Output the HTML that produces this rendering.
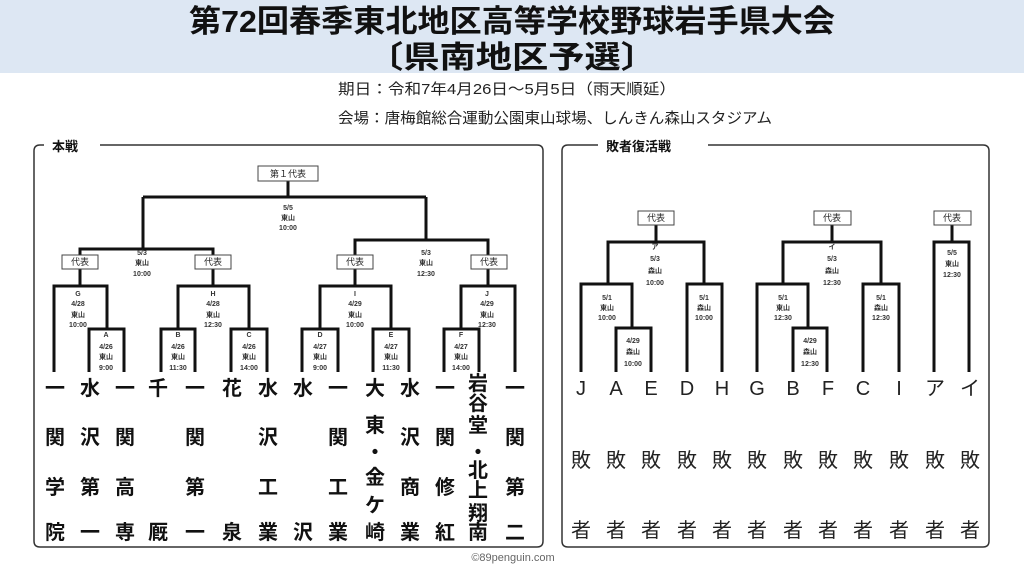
<!DOCTYPE html>
<html><head><meta charset="utf-8"><style>
html,body{margin:0;padding:0;background:#fff;}
svg{display:block;}
.t{font-family:"Liberation Sans","Noto Sans CJK JP",sans-serif;}
.s{font-size:7px;font-weight:bold;fill:#333;text-anchor:middle;}
.tm{font-size:20px;font-weight:bold;fill:#111;text-anchor:middle;}
.tr{font-size:20px;fill:#222;text-anchor:middle;}
.bx{font-size:9px;fill:#222;text-anchor:middle;}
</style></head><body>
<svg width="1024" height="576" viewBox="0 0 1024 576" xmlns="http://www.w3.org/2000/svg" class="t">
<rect x="0" y="0" width="1024" height="73" fill="#dde7f3"/>
<text x="512" y="32" font-size="31" font-weight="bold" text-anchor="middle" fill="#111" textLength="646" lengthAdjust="spacingAndGlyphs">第72回春季東北地区高等学校野球岩手県大会</text>
<text x="512" y="68" font-size="31" font-weight="bold" text-anchor="middle" fill="#111" textLength="290" lengthAdjust="spacingAndGlyphs">〔県南地区予選〕</text>
<text x="338" y="94" font-size="15" fill="#222" textLength="338" lengthAdjust="spacingAndGlyphs">期日：令和7年4月26日～5月5日（雨天順延）</text>
<text x="338" y="123" font-size="15" fill="#222" textLength="434" lengthAdjust="spacingAndGlyphs">会場：唐梅館総合運動公園東山球場、しんきん森山スタジアム</text>

<!-- panels -->
<path d="M44 145 H40 Q34 145 34 151 V541 Q34 547 40 547 H537 Q543 547 543 541 V151 Q543 145 537 145 H100" fill="none" stroke="#333" stroke-width="1.5"/>
<text x="52" y="151" font-size="13" font-weight="bold" fill="#111">本戦</text>
<path d="M598 145 H568 Q562 145 562 151 V541 Q562 547 568 547 H983 Q989 547 989 541 V151 Q989 145 983 145 H708" fill="none" stroke="#333" stroke-width="1.5"/>
<text x="606" y="151" font-size="13" font-weight="bold" fill="#111">敗者復活戦</text>

<g fill="none" stroke="#111" stroke-width="3">
<path d="M89 372V329H124V372"/>
<path d="M161 372V329H195V372"/>
<path d="M231 372V329H267V372"/>
<path d="M302 372V329H338V372"/>
<path d="M373 372V329H409V372"/>
<path d="M444 372V329H479V372"/>
<path d="M54 372V286H107V329M80 286V269"/>
<path d="M178 329V286H249V329M213 286V269"/>
<path d="M320 329V286H391V329M355 286V269"/>
<path d="M461 329V286H515V372M488 286V269"/>
<path d="M80 255V249H213V255M143 249V197"/>
<path d="M355 255V240H488V255M426 240V197"/>
<path d="M143 197H426M288 197V181"/>
<!-- right -->
<path d="M616 372V328H651V372"/>
<path d="M581 372V284H632V328"/>
<path d="M687 372V284H722V372"/>
<path d="M608 284V242H704V284M656 242V225"/>
<path d="M793 372V328H827V372"/>
<path d="M757 372V284H808V328"/>
<path d="M863 372V284H899V372"/>
<path d="M783 284V242H881V284M832 242V225"/>
<path d="M934 372V242H969V372M952 242V225"/>
</g>
<g fill="#fff" stroke="#444" stroke-width="1">
<rect x="258" y="166" width="60" height="15"/>
<rect x="62" y="255" width="36" height="14"/>
<rect x="195" y="255" width="36" height="14"/>
<rect x="337" y="255" width="36" height="14"/>
<rect x="471" y="255" width="36" height="14"/>
<rect x="638" y="211" width="36" height="14"/>
<rect x="814" y="211" width="37" height="14"/>
<rect x="934" y="211" width="37" height="14"/>
</g>
<g class="bx">
<text x="288" y="177">第１代表</text>
<text x="80" y="265">代表</text><text x="213" y="265">代表</text>
<text x="355" y="265">代表</text><text x="489" y="265">代表</text>
<text x="656" y="221">代表</text><text x="832" y="221">代表</text><text x="952" y="221">代表</text>
</g>
<g class="s">
<text x="288" y="210">5/5</text><text x="288" y="220">東山</text><text x="288" y="230">10:00</text>
<text x="142" y="255">5/3</text><text x="142" y="265">東山</text><text x="142" y="276">10:00</text>
<text x="426" y="255">5/3</text><text x="426" y="265">東山</text><text x="426" y="276">12:30</text>
<text x="78" y="296">G</text><text x="78" y="306">4/28</text><text x="78" y="317">東山</text><text x="78" y="327">10:00</text>
<text x="213" y="296">H</text><text x="213" y="306">4/28</text><text x="213" y="317">東山</text><text x="213" y="327">12:30</text>
<text x="355" y="296">I</text><text x="355" y="306">4/29</text><text x="355" y="317">東山</text><text x="355" y="327">10:00</text>
<text x="487" y="296">J</text><text x="487" y="306">4/29</text><text x="487" y="317">東山</text><text x="487" y="327">12:30</text>
<text x="106" y="337">A</text><text x="106" y="349">4/26</text><text x="106" y="359">東山</text><text x="106" y="370">9:00</text>
<text x="178" y="337">B</text><text x="178" y="349">4/26</text><text x="178" y="359">東山</text><text x="178" y="370">11:30</text>
<text x="249" y="337">C</text><text x="249" y="349">4/26</text><text x="249" y="359">東山</text><text x="249" y="370">14:00</text>
<text x="320" y="337">D</text><text x="320" y="349">4/27</text><text x="320" y="359">東山</text><text x="320" y="370">9:00</text>
<text x="391" y="337">E</text><text x="391" y="349">4/27</text><text x="391" y="359">東山</text><text x="391" y="370">11:30</text>
<text x="461" y="337">F</text><text x="461" y="349">4/27</text><text x="461" y="359">東山</text><text x="461" y="370">14:00</text>
<!-- right -->
<text x="655" y="249">ア</text><text x="655" y="261">5/3</text><text x="655" y="273">森山</text><text x="655" y="285">10:00</text>
<text x="832" y="249">イ</text><text x="832" y="261">5/3</text><text x="832" y="273">森山</text><text x="832" y="285">12:30</text>
<text x="607" y="300">5/1</text><text x="607" y="310">東山</text><text x="607" y="320">10:00</text>
<text x="704" y="300">5/1</text><text x="704" y="310">森山</text><text x="704" y="320">10:00</text>
<text x="783" y="300">5/1</text><text x="783" y="310">東山</text><text x="783" y="320">12:30</text>
<text x="881" y="300">5/1</text><text x="881" y="310">森山</text><text x="881" y="320">12:30</text>
<text x="633" y="343">4/29</text><text x="633" y="354">森山</text><text x="633" y="366">10:00</text>
<text x="810" y="343">4/29</text><text x="810" y="354">森山</text><text x="810" y="366">12:30</text>
<text x="952" y="255">5/5</text><text x="952" y="266">東山</text><text x="952" y="277">12:30</text>
</g>

<g class="tm">
<text x="55" y="395">一</text><text x="55" y="444">関</text><text x="55" y="494">学</text><text x="55" y="539">院</text>
<text x="90" y="395">水</text><text x="90" y="444">沢</text><text x="90" y="494">第</text><text x="90" y="539">一</text>
<text x="125" y="395">一</text><text x="125" y="444">関</text><text x="125" y="494">高</text><text x="125" y="539">専</text>
<text x="158" y="395">千</text><text x="158" y="539">厩</text>
<text x="195" y="395">一</text><text x="195" y="444">関</text><text x="195" y="494">第</text><text x="195" y="539">一</text>
<text x="232" y="395">花</text><text x="232" y="539">泉</text>
<text x="268" y="395">水</text><text x="268" y="444">沢</text><text x="268" y="494">工</text><text x="268" y="539">業</text>
<text x="303" y="395">水</text><text x="303" y="539">沢</text>
<text x="338" y="395">一</text><text x="338" y="444">関</text><text x="338" y="494">工</text><text x="338" y="539">業</text>
<text x="375" y="395">大</text><text x="375" y="432">東</text><text x="375" y="459">・</text><text x="375" y="484">金</text><text x="375" y="512">ケ</text><text x="375" y="539">崎</text>
<text x="410" y="395">水</text><text x="410" y="444">沢</text><text x="410" y="494">商</text><text x="410" y="539">業</text>
<text x="445" y="395">一</text><text x="445" y="444">関</text><text x="445" y="494">修</text><text x="445" y="539">紅</text>
<text x="478" y="390">岩</text><text x="478" y="410">谷</text><text x="478" y="432">堂</text><text x="478" y="459">・</text><text x="478" y="477">北</text><text x="478" y="497">上</text><text x="478" y="520">翔</text><text x="478" y="539">南</text>
<text x="515" y="395">一</text><text x="515" y="444">関</text><text x="515" y="494">第</text><text x="515" y="539">二</text>
</g>
<g class="tr">
<text x="581" y="395">J</text><text x="616" y="395">A</text><text x="651" y="395">E</text><text x="687" y="395">D</text><text x="722" y="395">H</text><text x="757" y="395">G</text><text x="793" y="395">B</text><text x="828" y="395">F</text><text x="863" y="395">C</text><text x="899" y="395">I</text><text x="935" y="395">ア</text><text x="970" y="395">イ</text>
<text x="581" y="467">敗</text><text x="616" y="467">敗</text><text x="651" y="467">敗</text><text x="687" y="467">敗</text><text x="722" y="467">敗</text><text x="757" y="467">敗</text><text x="793" y="467">敗</text><text x="828" y="467">敗</text><text x="863" y="467">敗</text><text x="899" y="467">敗</text><text x="935" y="467">敗</text><text x="970" y="467">敗</text>
<text x="581" y="537">者</text><text x="616" y="537">者</text><text x="651" y="537">者</text><text x="687" y="537">者</text><text x="722" y="537">者</text><text x="757" y="537">者</text><text x="793" y="537">者</text><text x="828" y="537">者</text><text x="863" y="537">者</text><text x="899" y="537">者</text><text x="935" y="537">者</text><text x="970" y="537">者</text>
</g>
<text x="513" y="561" font-size="11" fill="#666" text-anchor="middle">©89penguin.com</text>
</svg>
</body></html>
